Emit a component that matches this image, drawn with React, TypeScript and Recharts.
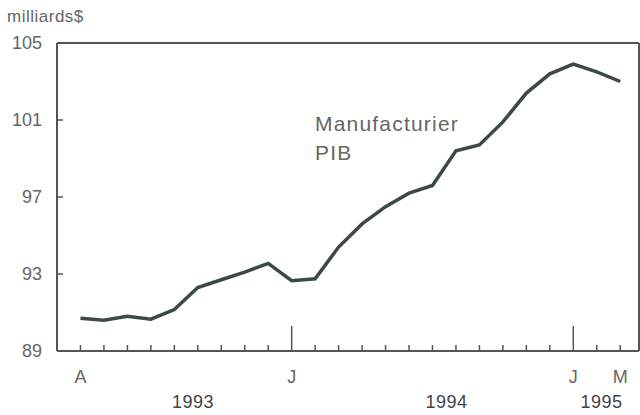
import { LineChart, Line, XAxis, YAxis, ReferenceLine } from 'recharts';

// Manufacturing GDP, monthly, April 1993 - March 1995 (billions $)
const months = [
    'Apr 93', 'May 93', 'Jun 93', 'Jul 93', 'Aug 93', 'Sep 93', 'Oct 93', 'Nov 93', 'Dec 93',
    'Jan 94', 'Feb 94', 'Mar 94', 'Apr 94', 'May 94', 'Jun 94', 'Jul 94', 'Aug 94', 'Sep 94',
    'Oct 94', 'Nov 94', 'Dec 94', 'Jan 95', 'Feb 95', 'Mar 95',
];
const gdpValues = [
    90.7, 90.6, 90.8, 90.65, 91.15, 92.3, 92.7, 93.1, 93.55,
    92.65, 92.75, 94.4, 95.6, 96.5, 97.2, 97.6, 99.4, 99.7,
    100.9, 102.4, 103.4, 103.9, 103.5, 103.0,
];
const monthTickLabels = [
    'A', '', '', '', '', '', '', '', '',
    'J', '', '', '', '', '', '', '', '', '', '', '',
    'J', '', 'M',
];
const yTicks = [89, 93, 97, 101, 105];
const years = ['1993', '1994', '1995'];
const yearTickPos = [4.8, 15.6, 22.2];

const data = months.map((m, i) => ({ i, month: m, value: gdpValues[i] }));

const AXIS = '#555';
const FONT = '"Liberation Sans", Arial, sans-serif';

function MonthTick({ x, y, payload }: any) {
    const label = monthTickLabels[payload.value] ?? '';
    const major = label === 'J';
    return (
        <g>
            <line x1={x} x2={x} y1={y} y2={y - (major ? 25 : 6)} stroke={AXIS} strokeWidth={1.5} />
            {label && (
                <text x={x} y={y + 32} textAnchor="middle" fill="#666" fontSize={18} fontFamily={FONT}>
                    {label}
                </text>
            )}
        </g>
    );
}

export default function App() {
    return (
        <div style={{ position: 'absolute', left: 0, top: 0, width: 640, height: 415, background: '#fff', fontFamily: FONT }}>
            <LineChart width={640} height={415} data={data} margin={{ top: 43, right: 0, left: 0, bottom: 0 }}>
                <XAxis
                    dataKey="i"
                    type="number"
                    domain={[-1, 23.8]}
                    ticks={data.map((d) => d.i)}
                    tick={<MonthTick />}
                    tickLine={false}
                    tickSize={0}
                    tickMargin={0}
                    height={38}
                    axisLine={{ stroke: AXIS, strokeWidth: 2 }}
                    interval={0}
                />
                <XAxis
                    xAxisId="years"
                    dataKey="i"
                    type="number"
                    domain={[-1, 23.8]}
                    ticks={yearTickPos}
                    tickFormatter={(v: number) => years[yearTickPos.indexOf(v)] ?? ''}
                    tick={{ fill: '#444', fontSize: 18, fontFamily: FONT, letterSpacing: 0.5 }}
                    axisLine={false}
                    tickLine={false}
                    tickSize={0}
                    tickMargin={6}
                    height={26}
                    interval={0}
                />
                <YAxis
                    domain={[89, 105]}
                    ticks={yTicks}
                    width={57}
                    tickSize={-6}
                    tickMargin={21}
                    tick={{ fill: '#666', fontSize: 18, fontFamily: FONT }}
                    axisLine={{ stroke: AXIS, strokeWidth: 2 }}
                    tickLine={{ stroke: AXIS, strokeWidth: 1.5 }}
                    interval={0}
                />
                <YAxis
                    yAxisId="right"
                    orientation="right"
                    domain={[89, 105]}
                    ticks={yTicks}
                    width={1}
                    tickSize={-6}
                    tickFormatter={() => ''}
                    axisLine={{ stroke: AXIS, strokeWidth: 2 }}
                    tickLine={{ stroke: AXIS, strokeWidth: 1.5 }}
                    interval={0}
                />
                <ReferenceLine y={105} stroke={AXIS} strokeWidth={2} />
                <Line
                    dataKey="value"
                    type="linear"
                    stroke="#3d4a44"
                    strokeWidth={3.5}
                    dot={false}
                    isAnimationActive={false}
                />
            </LineChart>
            <div style={{ position: 'absolute', left: 7, top: 7, fontSize: 17, color: '#666', letterSpacing: 0.5 }}>
                milliards$
            </div>
            <div style={{ position: 'absolute', left: 315, top: 109, fontSize: 21, color: '#666', lineHeight: '29px', letterSpacing: 1.2 }}>
                Manufacturier
                <br />
                PIB
            </div>
        </div>
    );
}
